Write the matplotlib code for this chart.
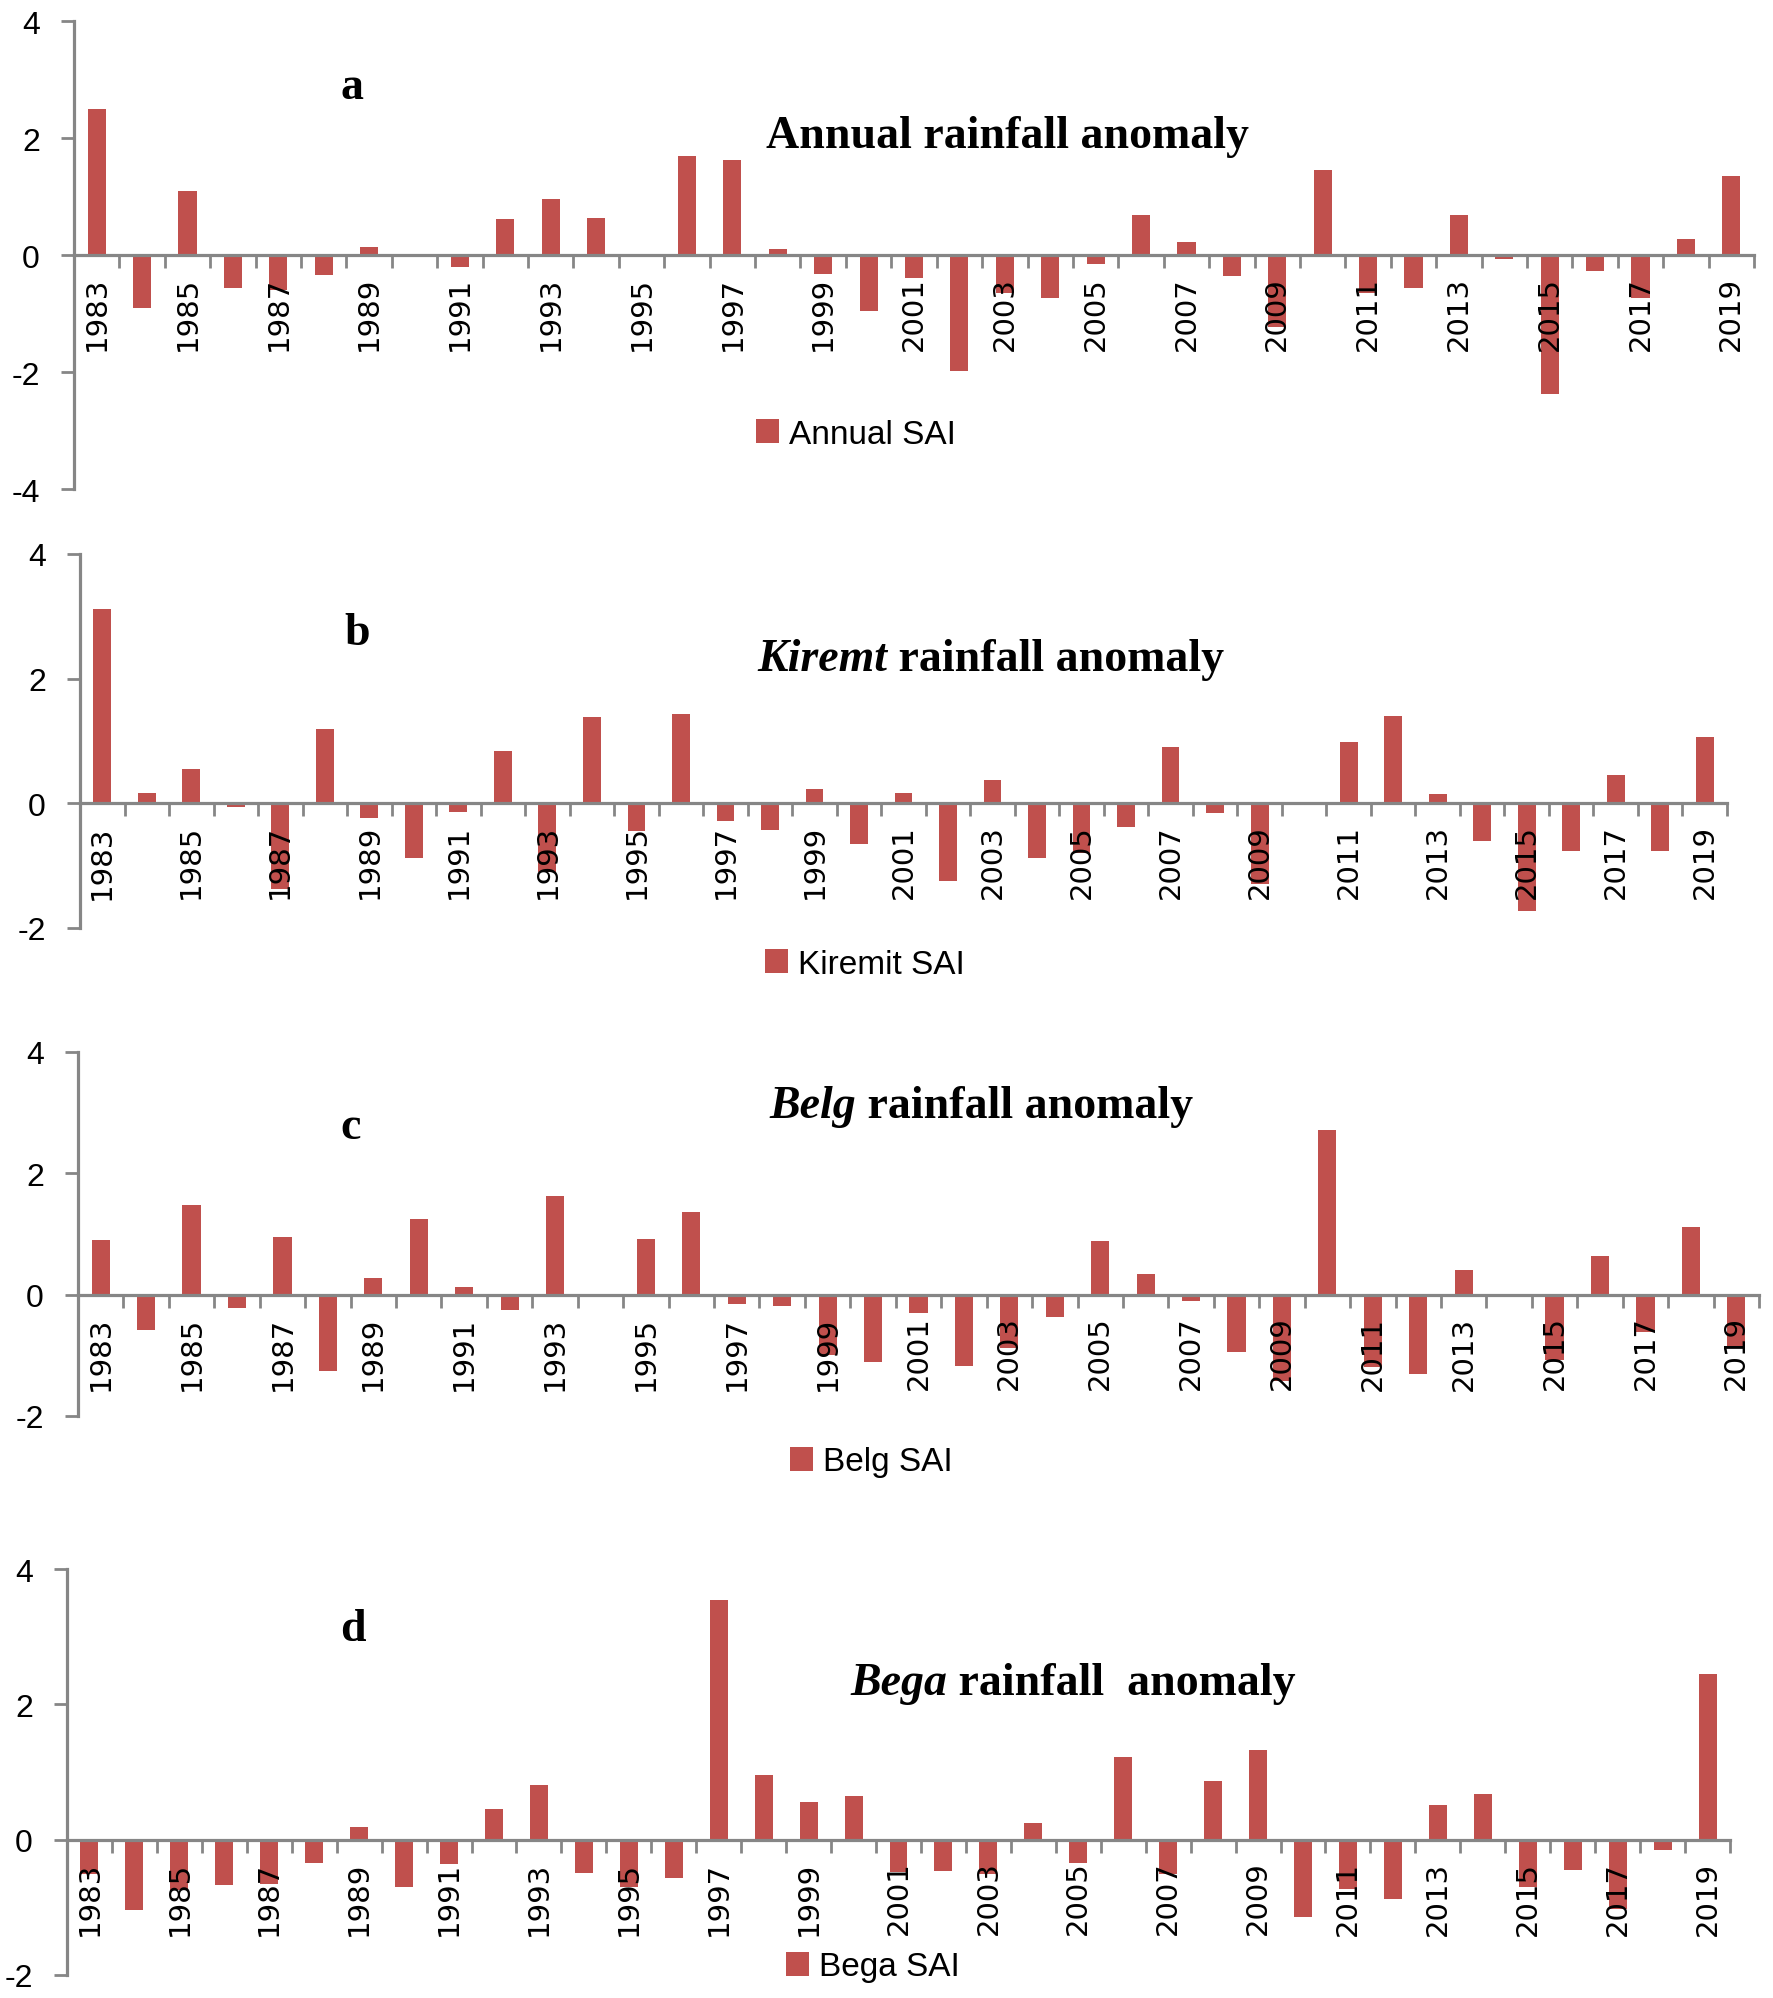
import numpy as np
import matplotlib
matplotlib.use("Agg")
import matplotlib.pyplot as plt

years = list(range(1983, 2020))

annual_sai = [2.50, -0.91, 1.09, -0.57, -0.60, -0.35, 0.14, 0.0, -0.20, 0.62,
              0.95, 0.63, 0.0, 1.69, 1.63, 0.10, -0.32, -0.95, -0.39, -1.98,
              -0.65, -0.74, -0.15, 0.68, 0.23, -0.36, -1.23, 1.46, -0.65, -0.56,
              0.69, -0.06, -2.37, -0.28, -0.74, 0.27, 1.35]
kiremit_sai = [3.11, 0.17, 0.55, -0.06, -1.38, 1.19, -0.24, -0.87, -0.14, 0.84,
               -1.10, 1.39, -0.45, 1.43, -0.29, -0.43, 0.23, -0.66, 0.17, -1.24,
               0.37, -0.88, -0.80, -0.38, 0.90, -0.16, -1.30, 0.0, 0.98, 1.40,
               0.15, -0.60, -1.73, -0.77, 0.45, -0.76, 1.06]
belg_sai = [0.90, -0.58, 1.48, -0.22, 0.95, -1.25, 0.27, 1.25, 0.12, -0.25,
            1.63, -0.04, 0.91, 1.36, -0.15, -0.18, -1.00, -1.11, -0.31, -1.18,
            -0.88, -0.37, 0.89, 0.34, -0.11, -0.95, -1.43, 2.72, -1.19, -1.31,
            0.41, -0.03, -1.08, 0.63, -0.62, 1.12, -0.84]
bega_sai = [-0.50, -1.04, -0.75, -0.67, -0.66, -0.34, 0.19, -0.70, -0.36, 0.46,
            0.81, -0.49, -0.70, -0.57, 3.54, 0.95, 0.55, 0.64, -0.48, -0.46,
            -0.50, 0.24, -0.35, 1.22, -0.50, 0.86, 1.33, -1.15, -0.73, -0.88,
            0.51, 0.67, -0.70, -0.45, -1.03, -0.16, 2.45]

W, H = 1773, 1999
fig = plt.figure(figsize=(W / 100, H / 100), dpi=100)

def fx(px):
    return px / W

def fy(py):
    return 1 - py / H

red = "#C0504D"
grey = "#868686"
sans = "Liberation Sans"

# panel: values, legend label, ylim, axes box px (left, right, top, bottom),
# letter (text, x, baseline), title parts (italic, rest, x, baseline), legend pos
panels = [
    (annual_sai, "Annual SAI", (-4, 4), (74, 1754, 22, 490),
     ("a", 340, 99), ("", "Annual rainfall anomaly", 766, 148), (756, 435)),
    (kiremit_sai, "Kiremit SAI", (-2, 4), (80, 1727, 555, 929),
     ("b", 344, 645), ("Kiremt", " rainfall anomaly", 757, 671), (765, 965)),
    (belg_sai, "Belg SAI", (-2, 4), (78, 1759, 1053, 1417),
     ("c", 340, 1139), ("Belg", " rainfall anomaly", 769, 1118), (790, 1463)),
    (bega_sai, "Bega SAI", (-2, 4), (67, 1730, 1570, 1976),
     ("d", 340, 1641), ("Bega", " rainfall  anomaly", 850, 1695), (786, 1968)),
]

x = np.arange(len(years))

for vals, lab, ylim, box, letter, title, legpos in panels:
    l, r, t, b = box
    ax = fig.add_axes([fx(l), fy(b), (r - l) / W, (b - t) / H])
    ax.bar(x, vals, width=0.4, color=red, label=lab, zorder=1)
    for s in ["top", "right"]:
        ax.spines[s].set_visible(False)
    ax.spines["bottom"].set_position(("data", 0))
    for s in ["bottom", "left"]:
        ax.spines[s].set_color(grey)
        ax.spines[s].set_linewidth(2.3)
        ax.spines[s].set_zorder(3)
    ax.set_xlim(-0.5, len(years) - 0.5)
    ax.set_ylim(*ylim)
    yt = np.arange(ylim[0], ylim[1] + 1, 2)
    ax.set_yticks(yt)
    ax.set_yticklabels([str(v) for v in yt], family=sans, fontsize=23)
    ax.set_xticks(x[::2])
    ax.set_xticklabels([str(y) for y in years[::2]], rotation=90,
                       family="DejaVu Sans", fontsize=21, ha="center", va="top")
    ax.set_xticks(np.arange(-0.5, len(years), 1), minor=True)
    ax.tick_params(axis="x", which="major", length=0, pad=15)
    ax.tick_params(axis="x", which="minor", length=9, width=2, color=grey,
                   direction="out")
    ax.tick_params(axis="y", length=9.5, width=2, color=grey, pad=15)
    ax.patch.set_alpha(0)

    fig.text(fx(letter[1]), fy(letter[2]), letter[0], family="Liberation Serif",
             weight="bold", fontsize=33, va="baseline", ha="left")
    it, rest, tx, tb = title
    if it:
        t1 = fig.text(fx(tx), fy(tb), it, family="Liberation Serif",
                      weight="bold", style="italic", fontsize=33,
                      va="baseline", ha="left")
        ax.annotate(rest, xy=(1, 0), xycoords=t1, va="bottom", ha="left",
                    family="Liberation Serif", weight="bold", fontsize=33)
    else:
        fig.text(fx(tx), fy(tb), rest, family="Liberation Serif",
                 weight="bold", fontsize=33, va="baseline", ha="left")

    ax.legend(loc="center left", bbox_to_anchor=(fx(legpos[0]), fy(legpos[1])),
              bbox_transform=fig.transFigure, frameon=False, borderpad=0,
              borderaxespad=0, handlelength=0.7, handleheight=0.7,
              handletextpad=0.3, prop={"family": sans, "size": 24})

fig.savefig("out.png", dpi=100)
